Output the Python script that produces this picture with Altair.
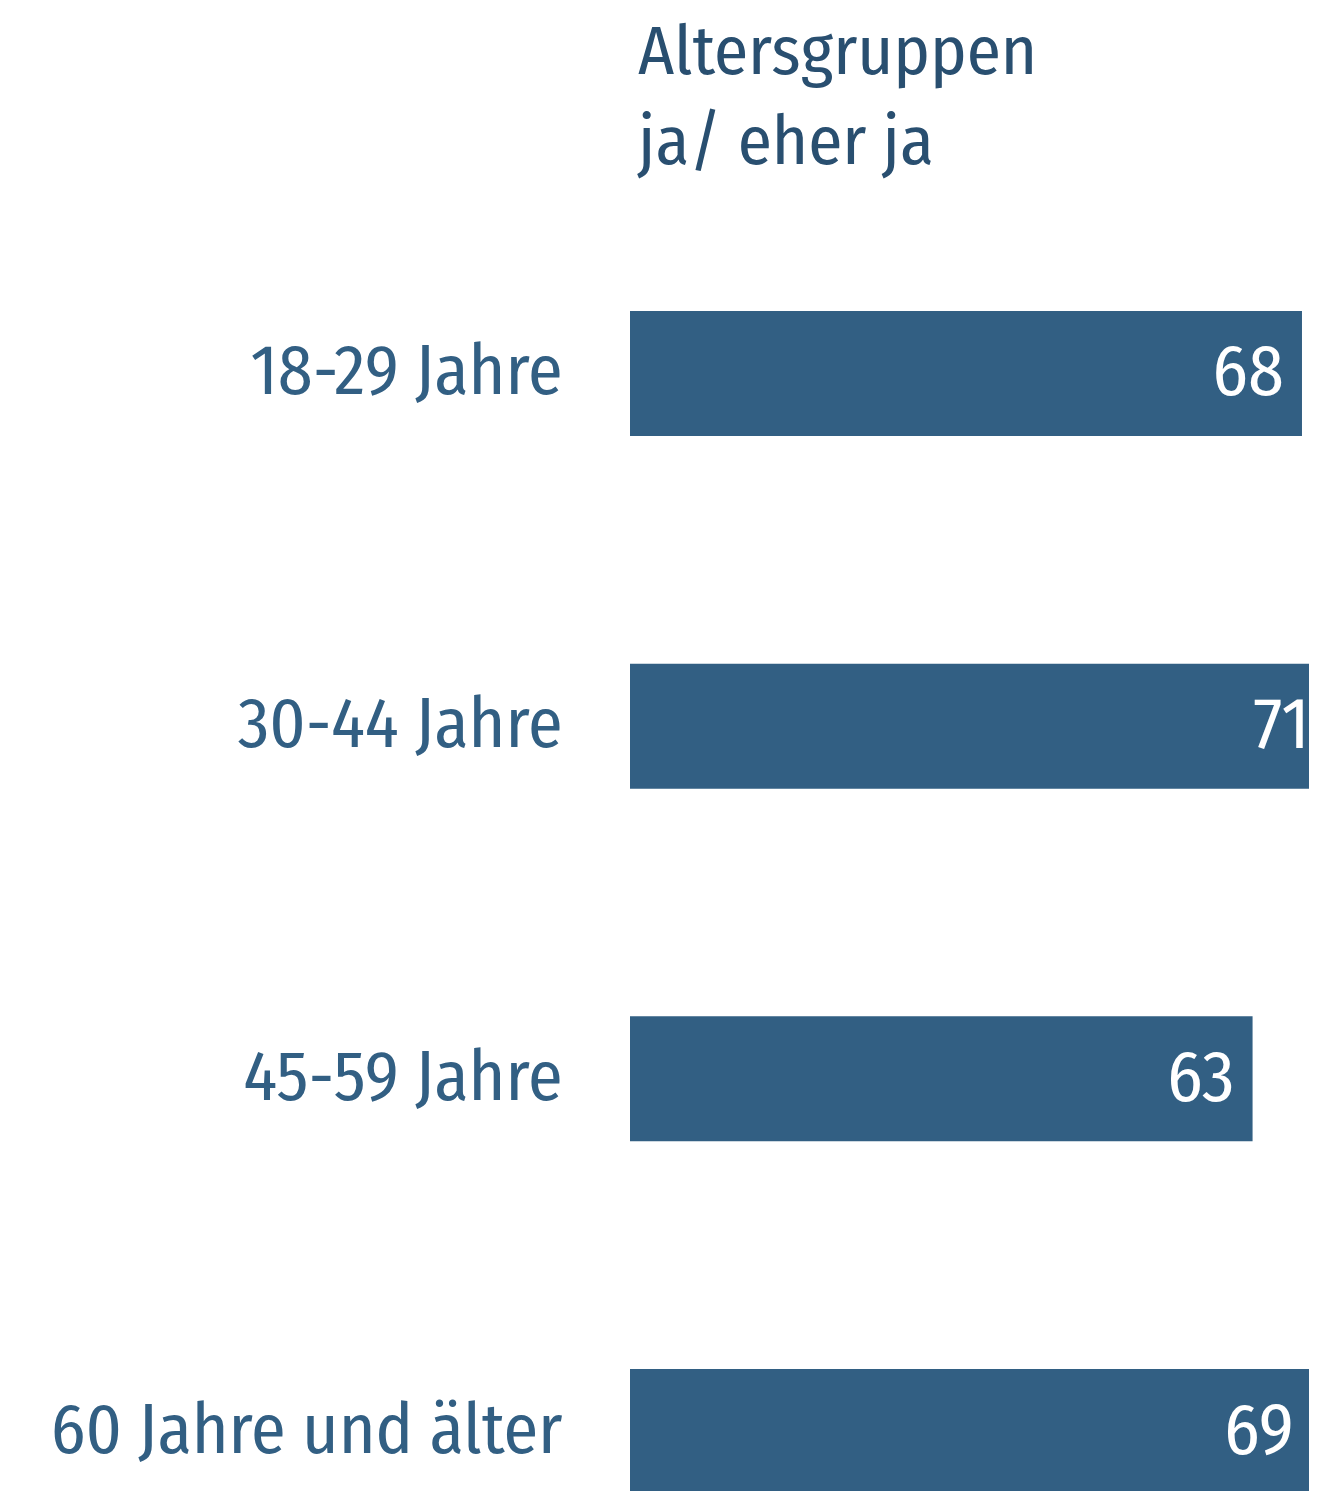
import altair as alt
import pandas as pd

categories = ["18-29 Jahre", "30-44 Jahre", "45-59 Jahre", "60 Jahre und älter"]
values = [68, 71, 63, 69]
title_lines = ["Altersgruppen", "ja/ eher ja"]

df = pd.DataFrame({"gruppe": categories, "wert": values})

FONT = "Fira Sans Condensed, Liberation Sans Narrow, DejaVu Sans Condensed, Roboto Condensed, Roboto, sans-serif"
BAR = "#325f83"
X_MAX = 68.71          # visible end of the value axis (longest bar runs past the edge)
LABEL_MAX = 70.6       # keep value labels inside the visible area

y = alt.Y(
    "gruppe:N", sort=categories, title=None,
    scale=alt.Scale(paddingInner=0.6456, paddingOuter=0.3147),
    axis=alt.Axis(domain=False, ticks=False, tickSize=0, labelPadding=68,
                  labelFontSize=70, labelFont=FONT, labelColor=BAR, labelLimit=0),
)
xscale = alt.Scale(domain=[0, X_MAX], nice=False, zero=True)

bars = alt.Chart(df).mark_bar(color=BAR, clip=True).encode(
    x=alt.X("wert:Q", scale=xscale, axis=None), y=y
)
text = alt.Chart(df).transform_calculate(
    pos=f"min(datum.wert, {LABEL_MAX})"
).mark_text(
    align="right", baseline="middle", dx=-18, color="white", fontSize=72, font=FONT
).encode(x=alt.X("pos:Q", scale=xscale, axis=None), y=y, text="wert:Q")

chart = (bars + text).properties(
    width=679, height=1405,
    title=alt.TitleParams(text=title_lines, anchor="start", frame="group", fontSize=69,
                          font=FONT, color="#294f70", fontWeight="normal", lineHeight=90,
                          dx=8, offset=-33, baseline="alphabetic"),
    autosize=alt.AutoSizeParams(type="none"),
    padding={"left": 622, "top": 192, "right": 0, "bottom": 0},
).configure_view(stroke=None).configure_axis(grid=False)

chart.save("out.html", embed_options={"renderer": "svg", "actions": False})
